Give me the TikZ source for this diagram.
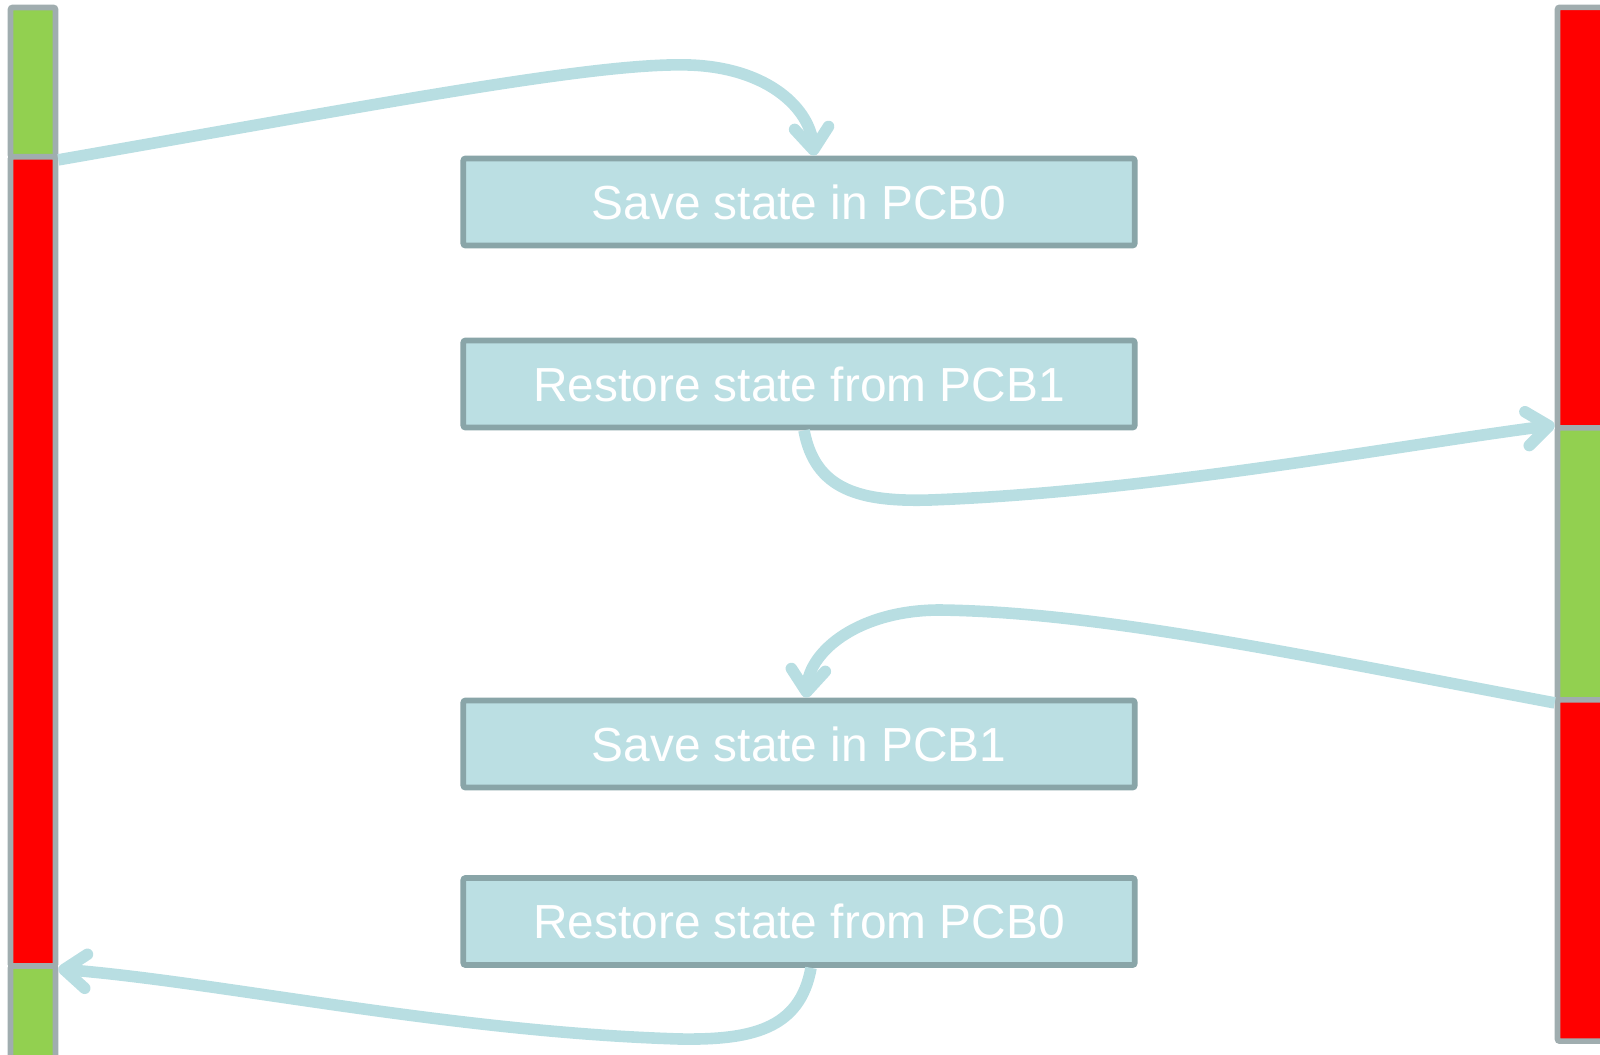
\documentclass[tikz,border=0pt]{standalone}
\usepackage{fontspec}
\setmainfont{Liberation Sans}
\usepackage{tikz}
\usetikzlibrary{arrows.meta}
\definecolor{boxfill}{HTML}{BBDFE3}
\definecolor{boxline}{HTML}{89A5A8}
\definecolor{barline}{HTML}{A0ADAF}
\definecolor{arrowblue}{HTML}{B8DEE2}
\definecolor{rungreen}{HTML}{92D050}
\definecolor{waitred}{HTML}{FF0000}

\begin{document}
\begin{tikzpicture}[x=0.01cm,y=-0.01cm,
statebox/.style={draw=boxline,fill=boxfill,line width=1.6pt,rounded corners=0.6pt,minimum width=6.71cm,minimum height=0.87cm,text=white,font=\fontsize{13.6pt}{16pt}\selectfont},
running/.style={draw=barline,fill=rungreen,line width=1.6pt,rounded corners=0.6pt,inner sep=0pt},
waiting/.style={running,fill=waitred},
switch/.style={draw=arrowblue,line width=3.3pt,-{Straight Barb[length=0.22cm,width=0.34cm,round]}}]
\useasboundingbox (0,0) rectangle (1600,1054);
% process 0
\node[running,minimum width=0.45cm,minimum height=1.495cm] (p0run) at (33,82.25) {};
\node[waiting,minimum width=0.45cm,minimum height=8.09cm] (p0wait) at (33,561.5) {};
\node[running,minimum width=0.45cm,minimum height=1.04cm] (p0back) at (33,1018) {};
% process 1
\node[waiting,minimum width=0.525cm,minimum height=4.205cm] (p1wait) at (1583.75,217.75) {};
\node[running,minimum width=0.525cm,minimum height=2.72cm] (p1run) at (1583.75,564) {};
\node[waiting,minimum width=0.525cm,minimum height=3.41cm] (p1back) at (1583.75,870.5) {};
% kernel
\node[statebox] (save0) at (799,202) {Save state in PCB0};
\node[statebox] (load1) at (799,384) {Restore state from PCB1};
\node[statebox] (save1) at (799,744) {Save state in PCB1};
\node[statebox] (load0) at (799,921.5) {Restore state from PCB0};
% switches
\draw[switch] (p0run.south east) .. controls (400,100) and (600,62) .. (690,65)
  .. controls (770,68) and (810,110) .. ([xshift=0.15cm]save0.north);
\draw[switch] ([xshift=0.05cm]load1.south) .. controls (815,490) and (860,502) .. (930,500)
  .. controls (1150,492) and (1400,445) .. (p1run.north west);
\draw[switch] (p1run.south west) .. controls (1300,655) and (1100,612) .. (940,610)
  .. controls (860,610) and (810,650) .. ([xshift=0.07cm]save1.north);
\draw[switch] ([xshift=0.12cm]load0.south) .. controls (800,1030) and (750,1040) .. (680,1039)
  .. controls (450,1032) and (220,982) .. (p0wait.south east);
\end{tikzpicture}
\end{document}
